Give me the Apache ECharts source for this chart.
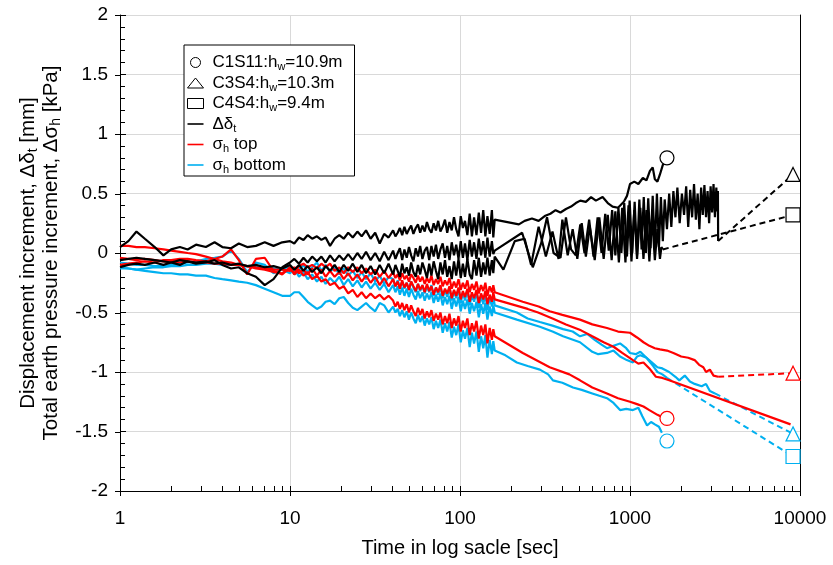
<!DOCTYPE html>
<html>
<head>
<meta charset="utf-8">
<script src="https://cdn.jsdelivr.net/npm/echarts@6/dist/echarts.min.js"></script>
<style>
  html, body { margin: 0; padding: 0; background: #fff; }
  #chart { width: 833px; height: 565px; }
</style>
</head>
<body>
<div id="chart"></div>
<script>
// time stamps (s) of the first part, 1 .. 38 s
const tEarly = [1, 1.12, 1.25, 1.4, 1.6, 1.8, 2, 2.25, 2.5, 2.8, 3.2, 3.6, 4, 4.5, 5, 5.6, 6.3, 7.1, 8, 9,
  10, 10.6, 11.3, 12, 12.7, 13.5, 14.4, 15.3, 16.2, 17.2, 18.3, 19.5, 20.7, 22, 23.4, 24.9, 26.4, 28, 29.8, 31.7,
  33.7, 35.8, 38];
// time stamps (s) of the noisy part, 40 .. 160 s
const tDense = [40.4, 41.7, 43, 44.3, 45.7, 47.1, 48.6, 50.1, 51.6, 53.2, 54.9, 56.6, 58.3, 60.1, 62, 63.9, 65.9, 67.9,
  70, 72.2, 74.4, 76.7, 79.1, 81.6, 84.1, 86.7, 89.4, 92.2, 95, 98, 101, 104, 107, 110.5, 114, 117.5, 121, 125, 129,
  133, 137, 141, 145, 149.5, 154, 157, 160];

// displacement increment (mm)
const ddC1Early = [0.05, 0.1, 0.18, 0.12, 0.05, -0.02, 0.03, 0.05, 0.03, 0.07, 0.05, 0.09, 0.05, 0.04, 0.08, 0.05, 0.06, 0.09, 0.06, 0.09,
  0.10, 0.08, 0.13, 0.11, 0.15, 0.12, 0.14, 0.11, 0.13, 0.06, 0.12, 0.15, 0.12, 0.17, 0.13, 0.18, 0.14, 0.19, 0.12, 0.17,
  0.08, 0.16, 0.13];
const ddC1Dense = [0.19, 0.14, 0.17, 0.21, 0.15, 0.22, 0.16, 0.2, 0.23, 0.16, 0.21, 0.24, 0.17, 0.23, 0.18, 0.26, 0.2, 0.17, 0.25, 0.19,
  0.27, 0.18, 0.22, 0.28, 0.17, 0.26, 0.19, 0.3, 0.2, 0.14, 0.31, 0.21, 0.27, 0.15, 0.33, 0.14, 0.3, 0.15, 0.34, 0.17,
  0.36, 0.14, 0.31, 0.16, 0.36, 0.13, 0.28];
const ddC3Early = [-0.12, -0.1, -0.09, -0.1, -0.08, -0.1, -0.08, -0.1, -0.07, -0.09, -0.08, -0.06, -0.1, -0.13, -0.12, -0.17, -0.2, -0.27, -0.22, -0.12,
  -0.08, -0.05, -0.09, -0.04, -0.08, -0.03, -0.07, -0.03, -0.08, -0.02, -0.07, -0.02, -0.06, -0.01, -0.06, 0.0, -0.05, 0.01, -0.06, 0.0,
  -0.07, 0.01, -0.06];
const ddC3Dense = [0.02, -0.05, 0.0, 0.04, -0.06, 0.03, -0.04, 0.05, -0.02, -0.07, 0.04, -0.03, 0.06, -0.05, 0.02, 0.05, -0.06, 0.06, -0.03, 0.07,
  -0.05, 0.03, 0.08, -0.04, 0.06, -0.06, 0.09, -0.02, 0.07, -0.05, 0.1, -0.04, 0.08, -0.06, 0.11, -0.03, 0.09, -0.05, 0.12, -0.02,
  0.1, -0.04, 0.13, -0.03, 0.1, -0.01, 0.02];
const ddC4Early = [-0.06, -0.05, -0.04, -0.05, -0.06, -0.07, -0.08, -0.06, -0.07, -0.08, -0.07, -0.09, -0.08, -0.1, -0.09, -0.11, -0.1, -0.12, -0.11, -0.13,
  -0.1, -0.14, -0.1, -0.15, -0.11, -0.16, -0.12, -0.17, -0.11, -0.15, -0.1, -0.16, -0.1, -0.15, -0.09, -0.16, -0.1, -0.17, -0.11, -0.18,
  -0.1, -0.17, -0.09];
const ddC4Dense = [-0.18, -0.1, -0.15, -0.2, -0.09, -0.17, -0.12, -0.19, -0.08, -0.16, -0.2, -0.1, -0.18, -0.08, -0.14, -0.21, -0.09, -0.19, -0.07, -0.15,
  -0.22, -0.08, -0.18, -0.06, -0.2, -0.11, -0.22, -0.07, -0.19, -0.05, -0.21, -0.09, -0.2, -0.05, -0.18, -0.22, -0.06, -0.19, -0.04, -0.2,
  -0.08, -0.18, -0.04, -0.19, -0.06, -0.17, -0.03];

const ddC1Late = [[222, 0.24], [240, 0.27], [265, 0.29], [290, 0.27], [315, 0.31], [340, 0.33], [365, 0.36], [390, 0.34], [420, 0.37],
  [450, 0.39], [480, 0.42], [510, 0.44], [550, 0.43], [590, 0.47], [630, 0.44], [690, 0.47], [740, 0.42], [790, 0.39], [850, 0.38],
  [920, 0.43], [960, 0.48], [1000, 0.58], [1060, 0.6], [1120, 0.58], [1190, 0.63], [1250, 0.61], [1310, 0.69], [1360, 0.72],
  [1400, 0.62], [1450, 0.6], [1500, 0.66], [1560, 0.74], [1620, 0.78]];
const ddC3Late = [[232, 0.17], [268, -0.12], [300, 0.08], [325, 0.3], [355, 0.0], [390, -0.04], [420, 0.3], [450, 0.03], [480, -0.02],
  [510, 0.24], [540, 0.0], [575, 0.28], [610, -0.03], [645, 0.3], [680, 0.0], [715, 0.33], [750, 0.02], [785, 0.36], [820, -0.02],
  [855, 0.38], [890, 0.0], [925, 0.42], [960, -0.03], [995, 0.44], [1030, 0.0], [1065, 0.43], [1100, -0.02], [1135, 0.45], [1170, 0.03],
  [1205, 0.47], [1240, 0.0], [1280, 0.46], [1320, 0.04], [1360, 0.48], [1400, 0.03], [1440, 0.5], [1480, 0.05], [1520, 0.47], [1560, 0.1],
  [1600, 0.45], [1650, 0.2], [1700, 0.5], [1750, 0.22], [1800, 0.52], [1850, 0.3], [1900, 0.55], [1960, 0.25], [2020, 0.5], [2080, 0.32],
  [2140, 0.56], [2200, 0.22], [2260, 0.53], [2320, 0.3], [2380, 0.58], [2440, 0.28], [2500, 0.5], [2560, 0.2], [2620, 0.55], [2680, 0.32],
  [2740, 0.57], [2800, 0.3], [2860, 0.52], [2920, 0.25], [2980, 0.56], [3040, 0.34], [3100, 0.58], [3160, 0.3], [3220, 0.55], [3260, 0.35],
  [3290, 0.52], [3300, 0.1]];
const ddC4Late = [[180, -0.14], [210, 0.1], [240, 0.12], [262, -0.1], [290, 0.22], [320, -0.03], [350, 0.18], [380, -0.05], [400, 0.28],
  [430, -0.02], [460, 0.2], [490, -0.05], [520, 0.25], [550, -0.03], [580, 0.22], [620, -0.06], [660, 0.3], [700, -0.05], [740, 0.32],
  [780, -0.06], [820, 0.35], [860, -0.08], [900, 0.38], [940, -0.08], [980, 0.4], [1020, -0.07], [1060, 0.36], [1100, -0.05], [1150, 0.38],
  [1200, -0.05], [1250, 0.36], [1300, -0.07], [1350, 0.3], [1400, -0.06], [1450, 0.2], [1500, -0.05], [1530, 0.05], [1560, 0.03]];

// earth pressure increment at the top (kPa)
const topC1Early = [-0.1, -0.09, -0.08, -0.07, -0.08, -0.06, -0.06, -0.05, -0.05, -0.06, -0.07, -0.05, -0.03, 0.03, -0.06, -0.18, -0.05, -0.04, -0.15, -0.18,
  -0.12, -0.18, -0.14, -0.19, -0.16, -0.22, -0.19, -0.24, -0.22, -0.27, -0.25, -0.3, -0.28, -0.34, -0.31, -0.37, -0.33, -0.38, -0.34, -0.38,
  -0.35, -0.39, -0.36];
const topC1Dense = [-0.4, -0.45, -0.41, -0.47, -0.42, -0.48, -0.43, -0.5, -0.44, -0.49, -0.53, -0.46, -0.52, -0.47, -0.55, -0.49, -0.54, -0.48, -0.57, -0.51,
  -0.56, -0.5, -0.6, -0.53, -0.59, -0.51, -0.63, -0.55, -0.61, -0.53, -0.66, -0.57, -0.63, -0.55, -0.69, -0.59, -0.66, -0.57, -0.72, -0.61,
  -0.69, -0.6, -0.76, -0.63, -0.73, -0.64, -0.7];
const topC3Early = [0.06, 0.06, 0.05, 0.05, 0.04, 0.03, 0.02, 0.01, 0.0, -0.01, -0.03, -0.05, -0.07, -0.08, -0.1, -0.11, -0.13, -0.14, -0.16, -0.17,
  -0.13, -0.17, -0.11, -0.09, -0.12, -0.1, -0.13, -0.09, -0.12, -0.09, -0.15, -0.12, -0.17, -0.12, -0.16, -0.12, -0.17, -0.13, -0.18, -0.14,
  -0.2, -0.15, -0.21];
const topC3Dense = [-0.16, -0.21, -0.18, -0.23, -0.17, -0.22, -0.19, -0.24, -0.18, -0.21, -0.25, -0.19, -0.24, -0.2, -0.26, -0.21, -0.25, -0.19, -0.27, -0.22,
  -0.26, -0.2, -0.28, -0.23, -0.27, -0.21, -0.3, -0.24, -0.29, -0.22, -0.31, -0.25, -0.3, -0.23, -0.33, -0.26, -0.31, -0.24, -0.34, -0.27,
  -0.32, -0.25, -0.36, -0.28, -0.33, -0.27, -0.33];
const topC4Early = [-0.04, -0.05, -0.06, -0.05, -0.06, -0.07, -0.07, -0.08, -0.07, -0.08, -0.08, -0.09, -0.09, -0.1, -0.1, -0.11, -0.12, -0.13, -0.14, -0.14,
  -0.15, -0.12, -0.17, -0.14, -0.18, -0.13, -0.19, -0.14, -0.2, -0.15, -0.2, -0.16, -0.22, -0.17, -0.23, -0.18, -0.24, -0.19, -0.25, -0.2,
  -0.27, -0.21, -0.28];
const topC4Dense = [-0.22, -0.28, -0.24, -0.3, -0.23, -0.29, -0.25, -0.31, -0.24, -0.28, -0.32, -0.26, -0.31, -0.27, -0.33, -0.26, -0.32, -0.28, -0.35, -0.29,
  -0.33, -0.27, -0.36, -0.3, -0.34, -0.28, -0.38, -0.31, -0.36, -0.29, -0.39, -0.32, -0.37, -0.3, -0.41, -0.33, -0.38, -0.31, -0.42, -0.34,
  -0.39, -0.32, -0.43, -0.35, -0.41, -0.33, -0.39];

const topC1Late = [[234, -0.84], [337, -0.96], [440, -1.02], [508, -1.07], [600, -1.13], [732, -1.18], [850, -1.22], [1000, -1.25],
  [1100, -1.27], [1200, -1.29], [1300, -1.32], [1450, -1.36], [1550, -1.38]];
const topC3Late = [[234, -0.41], [290, -0.45], [337, -0.49], [400, -0.52], [508, -0.56], [600, -0.6], [732, -0.63], [850, -0.66],
  [1000, -0.67], [1100, -0.71], [1200, -0.75], [1300, -0.78], [1400, -0.8], [1500, -0.81], [1650, -0.82], [1800, -0.84], [2000, -0.87],
  [2200, -0.88], [2400, -0.9], [2550, -0.94], [2700, -0.96], [2800, -1.0], [2950, -0.98], [3100, -1.03], [3300, -1.04]];
const topC4Late = [[200, -0.43], [250, -0.47], [288, -0.5], [350, -0.55], [420, -0.6], [515, -0.65], [600, -0.7], [700, -0.75],
  [805, -0.79], [900, -0.84], [1040, -0.9], [1120, -0.93], [1200, -0.92], [1300, -0.97], [1420, -1.04], [1550, -1.05], [1700, -1.07],
  [8800, -1.44]];

// earth pressure increment at the bottom (kPa)
const botC1Early = [-0.12, -0.13, -0.14, -0.15, -0.16, -0.17, -0.17, -0.18, -0.18, -0.19, -0.19, -0.21, -0.22, -0.23, -0.24, -0.25, -0.27, -0.3, -0.33, -0.36,
  -0.36, -0.33, -0.33, -0.37, -0.41, -0.44, -0.47, -0.45, -0.41, -0.4, -0.43, -0.38, -0.37, -0.42, -0.46, -0.48, -0.45, -0.42, -0.46, -0.49,
  -0.42, -0.44, -0.5];
const botC1Dense = [-0.45, -0.5, -0.47, -0.53, -0.48, -0.54, -0.49, -0.56, -0.5, -0.55, -0.59, -0.52, -0.58, -0.53, -0.61, -0.55, -0.6, -0.54, -0.64, -0.57,
  -0.63, -0.56, -0.67, -0.59, -0.66, -0.58, -0.71, -0.62, -0.69, -0.6, -0.75, -0.65, -0.72, -0.63, -0.79, -0.67, -0.76, -0.66, -0.83, -0.7,
  -0.8, -0.69, -0.88, -0.73, -0.85, -0.74, -0.82];
const botC3Early = [-0.08, -0.09, -0.1, -0.1, -0.11, -0.11, -0.1, -0.09, -0.08, -0.07, -0.05, -0.04, -0.03, 0.02, -0.05, -0.16, -0.08, -0.1, -0.17, -0.13,
  -0.12, -0.18, -0.14, -0.1, -0.16, -0.12, -0.08, -0.15, -0.1, -0.16, -0.12, -0.18, -0.13, -0.19, -0.15, -0.21, -0.16, -0.22, -0.17, -0.24,
  -0.19, -0.26, -0.2];
const botC3Dense = [-0.22, -0.28, -0.23, -0.29, -0.24, -0.3, -0.25, -0.31, -0.24, -0.29, -0.33, -0.26, -0.32, -0.27, -0.34, -0.28, -0.33, -0.27, -0.36, -0.29,
  -0.35, -0.28, -0.38, -0.31, -0.37, -0.29, -0.4, -0.32, -0.38, -0.3, -0.42, -0.33, -0.4, -0.31, -0.44, -0.35, -0.41, -0.33, -0.46, -0.36,
  -0.43, -0.34, -0.48, -0.37, -0.45, -0.36, -0.44];
const botC4Early = [-0.13, -0.13, -0.14, -0.13, -0.12, -0.12, -0.11, -0.11, -0.1, -0.1, -0.09, -0.09, -0.1, -0.1, -0.1, -0.11, -0.12, -0.12, -0.13, -0.14,
  -0.17, -0.13, -0.2, -0.16, -0.22, -0.18, -0.24, -0.2, -0.26, -0.21, -0.25, -0.2, -0.27, -0.22, -0.28, -0.23, -0.29, -0.24, -0.3, -0.25,
  -0.31, -0.26, -0.33];
const botC4Dense = [-0.27, -0.33, -0.28, -0.35, -0.29, -0.36, -0.3, -0.37, -0.3, -0.35, -0.39, -0.32, -0.38, -0.33, -0.4, -0.34, -0.39, -0.33, -0.42, -0.35,
  -0.41, -0.34, -0.44, -0.37, -0.43, -0.36, -0.47, -0.38, -0.45, -0.37, -0.49, -0.4, -0.47, -0.39, -0.51, -0.42, -0.49, -0.41, -0.54, -0.43,
  -0.51, -0.42, -0.56, -0.45, -0.53, -0.44, -0.5];

const botC1Late = [[185, -0.86], [216, -0.92], [250, -0.95], [295, -0.98], [330, -1.02], [352, -1.07], [400, -1.09], [462, -1.13],
  [520, -1.15], [600, -1.18], [660, -1.2], [732, -1.22], [800, -1.26], [874, -1.32], [950, -1.31], [1040, -1.32], [1120, -1.3],
  [1180, -1.37], [1260, -1.45], [1330, -1.42], [1400, -1.44], [1480, -1.46], [1540, -1.51]];
const botC3Late = [[216, -0.5], [250, -0.55], [295, -0.58], [350, -0.61], [404, -0.64], [460, -0.66], [508, -0.7], [560, -0.68],
  [620, -0.73], [680, -0.77], [732, -0.8], [800, -0.78], [874, -0.76], [950, -0.8], [1000, -0.84], [1080, -0.85], [1150, -0.83],
  [1250, -0.88], [1370, -0.93], [1450, -0.96], [1550, -0.97], [1700, -1.0], [1850, -1.04], [1950, -1.07], [2100, -1.03], [2250, -1.08],
  [2400, -1.1], [2640, -1.12], [2800, -1.1], [2950, -1.16], [3160, -1.18]];
const botC4Late = [[216, -0.56], [295, -0.62], [350, -0.66], [404, -0.7], [508, -0.75], [600, -0.83], [650, -0.85], [732, -0.84],
  [800, -0.82], [874, -0.87], [958, -0.9], [1040, -0.92], [1100, -0.87], [1150, -0.86], [1250, -0.88], [1370, -0.95], [1450, -1.0],
  [1550, -1.02], [1650, -1.05]];

// dashed links to the final readings
const ddC3Dash = [[3300, 0.1], [9100, 0.66]];
const ddC4Dash = [[1560, 0.03], [9100, 0.32]];
const topC3Dash = [[3300, -1.04], [9100, -1.01]];
const botC3Dash = [[3160, -1.18], [9100, -1.52]];
const botC4Dash = [[1650, -1.05], [9100, -1.71]];

// end markers: displacement, top, bottom
const endC1 = [[1650, 0.8], [1650, -1.39], [1650, -1.58]];
const endC3 = [[9100, 0.66], [9100, -1.01], [9100, -1.52]];
const endC4 = [[9100, 0.32], [9100, -1.71]];

const xTicks = [1, 2, 3, 4, 5, 6, 7, 8, 9, 10, 20, 30, 40, 50, 60, 70, 80, 90, 100, 200, 300, 400, 500, 600, 700, 800, 900,
  1000, 2000, 3000, 4000, 5000, 6000, 7000, 8000, 9000, 10000];
const yMajorTicks = [-2, -1.5, -1, -0.5, 0, 0.5, 1, 1.5, 2];

const FONT = '"Liberation Sans", Arial, sans-serif';
const BLACK = '#000000';
const RED = '#FF0000';
const BLUE = '#00B0F0';

const legendText = {
  C1S11: 'C1S11:h{s|w}=10.9m',
  C3S4: 'C3S4:h{s|w}=10.3m',
  C4S4: 'C4S4:h{s|w}=9.4m',
  dd: 'Δδ{s|t}',
  top: 'σ{s|h} top',
  bottom: 'σ{s|h} bottom'
};

function join(early, dense, late) {
  return tEarly.map((t, i) => [t, early[i]])
    .concat(tDense.map((t, i) => [t, dense[i]]))
    .concat(late);
}

function solid(name, color, data) {
  return {
    name: name, type: 'line', data: data, color: color,
    showSymbol: false, symbol: 'none', silent: true,
    lineStyle: { color: color, width: 2.2 }
  };
}

function dashed(name, color, data) {
  return {
    name: name, type: 'line', data: data, color: color,
    showSymbol: false, symbol: 'none', silent: true,
    lineStyle: { color: color, width: 2, type: [6, 4] }
  };
}

function markers(name, symbol, data, colors) {
  return {
    name: name, type: 'scatter', symbol: symbol, symbolSize: 14, silent: true, z: 5,
    itemStyle: { color: '#fff', borderColor: BLACK, borderWidth: 1.2, opacity: 1 },
    data: data.map((p, i) => ({ value: p, itemStyle: { borderColor: colors[i] } }))
  };
}

const chart = echarts.init(document.getElementById('chart'));

const lineIcon = 'path://M0,0H10V1H0Z';
const markerLegendStyle = { color: '#fff', borderColor: BLACK, borderWidth: 1 };

chart.setOption({
  animation: false,
  backgroundColor: '#fff',
  textStyle: { fontFamily: FONT },
  grid: { left: 120, right: 33, top: 15, bottom: 74 },
  legend: {
    orient: 'vertical',
    left: 184,
    top: 45,
    padding: [9, 12, 1, 3],
    itemGap: 2,
    itemWidth: 16,
    itemHeight: 10,
    borderColor: BLACK,
    borderWidth: 1,
    backgroundColor: '#fff',
    selectedMode: false,
    textStyle: {
      fontFamily: FONT, fontSize: 17, color: BLACK, padding: [0, 0, 0, 4],
      rich: { s: { fontFamily: FONT, fontSize: 11, color: BLACK, padding: [9, 0, 0, 0] } }
    },
    formatter: name => legendText[name],
    data: [
      { name: 'C1S11', icon: 'circle', itemStyle: markerLegendStyle },
      { name: 'C3S4', icon: 'triangle', itemStyle: markerLegendStyle },
      { name: 'C4S4', icon: 'rect', itemStyle: markerLegendStyle },
      { name: 'dd', icon: lineIcon, itemStyle: { color: BLACK, borderWidth: 0 } },
      { name: 'top', icon: lineIcon, itemStyle: { color: RED, borderWidth: 0 } },
      { name: 'bottom', icon: lineIcon, itemStyle: { color: BLUE, borderWidth: 0 } }
    ]
  },
  xAxis: [{
    type: 'log',
    logBase: 10,
    min: 1,
    max: 10000,
    name: 'Time in log sacle [sec]',
    nameLocation: 'middle',
    nameGap: 47,
    nameTextStyle: { fontFamily: FONT, fontSize: 20, color: BLACK },
    axisLine: { show: true, onZero: false, lineStyle: { color: BLACK, width: 1 } },
    axisTick: { show: true, inside: false, length: 5, lineStyle: { color: BLACK } },
    axisLabel: { fontFamily: FONT, fontSize: 19, color: BLACK, margin: 18, formatter: v => String(v) },
    splitLine: { show: true, lineStyle: { color: '#D9D9D9', width: 1 } }
  }],
  yAxis: [{
    type: 'value',
    min: -2,
    max: 2,
    interval: 0.5,
    name: '{a|Displacement increment, Δδ}{s|t}{a| [mm]}\n{a|Total earth pressure increment, Δσ}{s|h}{a| [kPa]}',
    nameLocation: 'middle',
    nameRotate: 90,
    nameGap: 57,
    nameTextStyle: {
      fontFamily: FONT, fontSize: 20.5, color: BLACK, lineHeight: 23,
      rich: {
        a: { fontFamily: FONT, fontSize: 20.5, color: BLACK },
        s: { fontFamily: FONT, fontSize: 14, color: BLACK, padding: [10, 0, 0, 0] }
      }
    },
    axisLine: { show: true, lineStyle: { color: BLACK, width: 1 } },
    axisTick: { show: true, inside: true, length: 6, lineStyle: { color: BLACK } },
    minorTick: { show: true, splitNumber: 5, length: 5, lineStyle: { color: BLACK } },
    axisLabel: { fontFamily: FONT, fontSize: 19, color: BLACK, margin: 12 },
    splitLine: { show: true, lineStyle: { color: '#D9D9D9', width: 1 } }
  }, {
    type: 'value',
    min: -2,
    max: 2,
    position: 'right',
    axisLine: { show: true, onZero: false, lineStyle: { color: BLACK, width: 1 } },
    axisTick: { show: false },
    axisLabel: { show: false },
    splitLine: { show: false }
  }],
  series: [
    solid('bottom', BLUE, join(botC3Early, botC3Dense, botC3Late)),
    solid('bottom', BLUE, join(botC4Early, botC4Dense, botC4Late)),
    solid('bottom', BLUE, join(botC1Early, botC1Dense, botC1Late)),
    dashed('bottom', BLUE, botC3Dash),
    dashed('bottom', BLUE, botC4Dash),
    solid('top', RED, join(topC3Early, topC3Dense, topC3Late)),
    solid('top', RED, join(topC4Early, topC4Dense, topC4Late)),
    solid('top', RED, join(topC1Early, topC1Dense, topC1Late)),
    dashed('top', RED, topC3Dash),
    solid('dd', BLACK, join(ddC3Early, ddC3Dense, ddC3Late)),
    solid('dd', BLACK, join(ddC4Early, ddC4Dense, ddC4Late)),
    solid('dd', BLACK, join(ddC1Early, ddC1Dense, ddC1Late)),
    dashed('dd', BLACK, ddC3Dash),
    dashed('dd', BLACK, ddC4Dash),
    markers('C1S11', 'circle', endC1, [BLACK, RED, BLUE]),
    markers('C3S4', 'triangle', endC3, [BLACK, RED, BLUE]),
    markers('C4S4', 'rect', endC4, [BLACK, BLUE]),
    {
      // inner ticks of the log axis (decades and 2..9)
      type: 'custom', silent: true, clip: false, z: 6,
      data: xTicks.map(t => [t, -2]),
      renderItem: (params, api) => {
        const p = api.coord([api.value(0), api.value(1)]);
        const x = Math.round(p[0]) + 0.5;
        return { type: 'line', shape: { x1: x, y1: p[1], x2: x, y2: p[1] - 5 }, style: { stroke: BLACK, lineWidth: 1 } };
      }
    },
    {
      // outer stubs of the major value ticks
      type: 'custom', silent: true, clip: false, z: 6,
      data: yMajorTicks.map(v => [1, v]),
      renderItem: (params, api) => {
        const p = api.coord([api.value(0), api.value(1)]);
        const y = Math.round(p[1]) + 0.5;
        return { type: 'line', shape: { x1: p[0] - 5, y1: y, x2: p[0], y2: y }, style: { stroke: BLACK, lineWidth: 1 } };
      }
    }
  ]
});
</script>
</body>
</html>
